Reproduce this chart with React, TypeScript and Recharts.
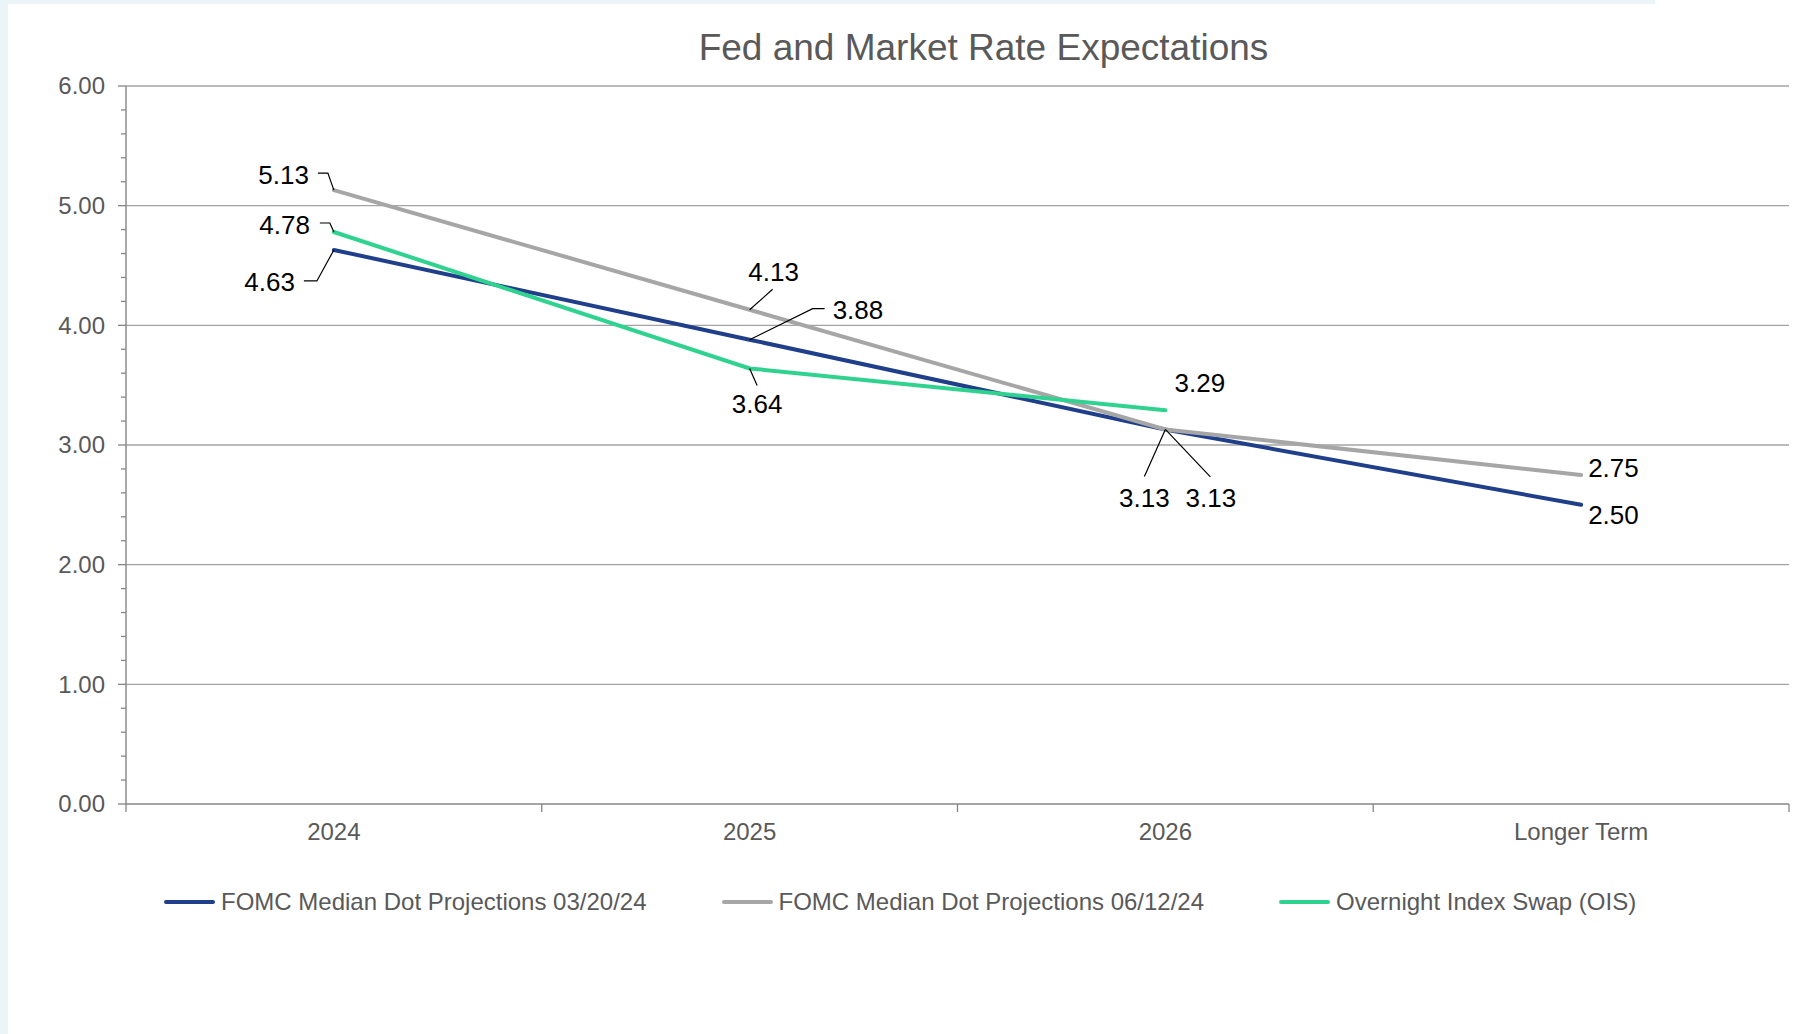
import React from 'react';
import { ComposedChart, Line, XAxis, YAxis, ReferenceLine, LabelList } from 'recharts';

// ---------- data ----------
const categories = ['2024', '2025', '2026', 'Longer Term'];
const fomcMarch = [4.63, 3.88, 3.13, 2.5];
const fomcJune = [5.13, 4.13, 3.13, 2.75];
const oisSwap: (number | null)[] = [4.78, 3.64, 3.29, null];
const yMajorTicks = [0, 1, 2, 3, 4, 5, 6];
const yAllTicks = [
  0, 0.2, 0.4, 0.6, 0.8, 1, 1.2, 1.4, 1.6, 1.8, 2, 2.2, 2.4, 2.6, 2.8, 3, 3.2, 3.4, 3.6, 3.8,
  4, 4.2, 4.4, 4.6, 4.8, 5, 5.2, 5.4, 5.6, 5.8, 6,
];
const seriesNames = [
  'FOMC Median Dot Projections 03/20/24',
  'FOMC Median Dot Projections 06/12/24',
  'Overnight Index Swap (OIS)',
];
const title = 'Fed and Market Rate Expectations';

// ---------- layout / style ----------
const W = 1797;
const H = 1034;
const PLOT_LEFT = 126;
const PLOT_RIGHT = 1789;
const PLOT_TOP = 86;
const PLOT_BOTTOM = 804;
const X_AXIS_H = 30;
const PLOT_W = PLOT_RIGHT - PLOT_LEFT;
const HALF_BAND = PLOT_W / (categories.length * 2);
const FONT = '"Liberation Sans", Arial, Helvetica, sans-serif';
const AXIS_TEXT = '#595959';
const AXIS_LINE = '#868686';
const GRID = '#A3A3A3';
const LINE_W = 4;
const COLORS = { march: '#1F3F8A', june: '#A6A6A6', ois: '#2FD28F' };
const SERIES_COLORS = [COLORS.march, COLORS.june, COLORS.ois];

const data = categories.map((c, i) => ({
  cat: c,
  march: fomcMarch[i],
  june: fomcJune[i],
  ois: oisSwap[i],
}));

type LabelLayout = { dx: number; dy: number; anchor: 'start' | 'middle' | 'end'; leader?: number[][] };
const LABEL_LAYOUT: Record<string, LabelLayout[]> = {
  march: [
    { dx: -39, dy: 31.5, anchor: 'end', leader: [[-30, 31], [-17, 31], [0, 0]] },
    { dx: 83, dy: -30, anchor: 'start', leader: [[75, -31], [63, -31], [0, 0]] },
    { dx: -21, dy: 68.5, anchor: 'middle', leader: [[-21, 47], [0, 0]] },
    { dx: 7, dy: 10, anchor: 'start' },
  ],
  june: [
    { dx: -25, dy: -15, anchor: 'end', leader: [[-16, -17], [-6, -17], [0, 0]] },
    { dx: 24, dy: -38, anchor: 'middle', leader: [[23, -20.5], [0, 0]] },
    { dx: 45.5, dy: 68.5, anchor: 'middle', leader: [[45, 47.5], [0, 0]] },
    { dx: 7, dy: -7, anchor: 'start' },
  ],
  ois: [
    { dx: -24, dy: -7, anchor: 'end', leader: [[-14, -9], [-4, -9], [0, 0]] },
    { dx: 7.5, dy: 35.5, anchor: 'middle', leader: [[7.5, 17], [0, 0]] },
    { dx: 34.5, dy: -27.5, anchor: 'middle' },
  ],
};

const makeLabel = (key: string) => (props: any) => {
  const x = props.x ?? props.viewBox?.x;
  const y = props.y ?? props.viewBox?.y;
  const { value, index } = props;
  if (value == null || x == null || y == null) return null;
  const lay = LABEL_LAYOUT[key][index];
  if (!lay) return null;
  const pts = lay.leader ? lay.leader.map((p) => `${x + p[0]},${y + p[1]}`).join(' ') : null;
  return (
    <g key={`${key}-${index}`}>
      {pts && <polyline points={pts} fill="none" stroke="#000" strokeWidth={1.2} />}
      <text
        x={x + lay.dx}
        y={y + lay.dy}
        dy="0.35em"
        textAnchor={lay.anchor}
        fontSize={26}
        fontFamily={FONT}
        fill="#000"
      >
        {Number(value).toFixed(2)}
      </text>
    </g>
  );
};

const XTick = (props: any) => {
  const { x, y, payload } = props;
  const idx = payload.index ?? categories.indexOf(payload.value);
  return (
    <g>
      <line x1={x - HALF_BAND} x2={x - HALF_BAND} y1={y} y2={y + 8} stroke={AXIS_LINE} strokeWidth={1.3} />
      {idx === categories.length - 1 && (
        <line x1={x + HALF_BAND} x2={x + HALF_BAND} y1={y} y2={y + 8} stroke={AXIS_LINE} strokeWidth={1.3} />
      )}
      <text x={x} y={y + 28} dy="0.35em" textAnchor="middle" fontSize={24} fontFamily={FONT} fill={AXIS_TEXT}>
        {payload.value}
      </text>
    </g>
  );
};

const YTick = (props: any) => {
  const { x, y, payload } = props;
  const v = Number(payload.value);
  const major = yMajorTicks.some((m) => Math.abs(m - v) < 1e-6);
  return (
    <g>
      <line x1={x - (major ? 8 : 5)} x2={x} y1={y} y2={y} stroke={AXIS_LINE} strokeWidth={1.3} />
      {major && (
        <text x={x - 21} y={y} dy="0.35em" textAnchor="end" fontSize={24} fontFamily={FONT} fill={AXIS_TEXT}>
          {v.toFixed(2)}
        </text>
      )}
    </g>
  );
};

const LegendBlock = () => (
  <div
    style={{
      position: 'absolute',
      left: 164,
      top: 886,
      height: 32,
      display: 'flex',
      alignItems: 'center',
      fontFamily: FONT,
      fontSize: 24,
      color: AXIS_TEXT,
      whiteSpace: 'nowrap',
    }}
  >
    {seriesNames.map((n, i) => (
      <div key={n} style={{ display: 'flex', alignItems: 'center', marginRight: i < seriesNames.length - 1 ? 75 : 0 }}>
        <div style={{ width: 51, height: 4, background: SERIES_COLORS[i], borderRadius: 2, marginRight: 6 }} />
        <span>{n}</span>
      </div>
    ))}
  </div>
);

export default function App() {
  return (
    <div style={{ position: 'absolute', left: 0, top: 0, width: W, height: H, background: '#fff', overflow: 'hidden' }}>
      <div style={{ position: 'absolute', left: 0, top: 0, width: 8, height: H, background: '#EBF5F7' }} />
      <div style={{ position: 'absolute', left: 0, top: 0, width: 1655, height: 4, background: '#EBF5F7' }} />
      <div
        style={{
          position: 'absolute',
          left: 0,
          top: 28,
          width: W,
          textAlign: 'center',
          paddingLeft: 170,
          boxSizing: 'border-box',
          fontFamily: FONT,
          fontSize: 37,
          color: AXIS_TEXT,
          lineHeight: '40px',
        }}
      >
        {title}
      </div>
      <div style={{ position: 'absolute', left: 0, top: 0 }}>
        <ComposedChart
          width={W}
          height={H}
          data={data}
          margin={{ top: PLOT_TOP, right: W - PLOT_RIGHT, bottom: H - PLOT_BOTTOM - X_AXIS_H, left: 0 }}
        >
          {yMajorTicks
            .filter((t) => t > 0)
            .map((t) => (
              <ReferenceLine key={t} y={t} stroke={GRID} strokeWidth={1.4} ifOverflow="extendDomain" />
            ))}
          <XAxis
            dataKey="cat"
            type="category"
            scale="point"
            height={X_AXIS_H}
            padding={{ left: HALF_BAND, right: HALF_BAND }}
            axisLine={{ stroke: AXIS_LINE, strokeWidth: 1.4 }}
            tickLine={false}
            tickSize={0}
            tickMargin={0}
            tick={<XTick />}
            interval={0}
          />
          <YAxis
            width={PLOT_LEFT}
            domain={[0, 6]}
            ticks={yAllTicks}
            interval={0}
            axisLine={{ stroke: AXIS_LINE, strokeWidth: 1.4 }}
            tickLine={false}
            tickSize={0}
            tickMargin={0}
            tick={<YTick />}
            allowDecimals
          />
          <Line
            dataKey="march"
            name={seriesNames[0]}
            stroke={COLORS.march}
            strokeWidth={LINE_W}
            dot={false}
            activeDot={false}
            strokeLinecap="round"
            isAnimationActive={false}
          >
            <LabelList dataKey="march" content={makeLabel('march')} />
          </Line>
          <Line
            dataKey="june"
            name={seriesNames[1]}
            stroke={COLORS.june}
            strokeWidth={LINE_W}
            dot={false}
            activeDot={false}
            strokeLinecap="round"
            isAnimationActive={false}
          >
            <LabelList dataKey="june" content={makeLabel('june')} />
          </Line>
          <Line
            dataKey="ois"
            name={seriesNames[2]}
            stroke={COLORS.ois}
            strokeWidth={LINE_W}
            dot={false}
            activeDot={false}
            strokeLinecap="round"
            isAnimationActive={false}
          >
            <LabelList dataKey="ois" content={makeLabel('ois')} />
          </Line>
        </ComposedChart>
      </div>
      <LegendBlock />
    </div>
  );
}
